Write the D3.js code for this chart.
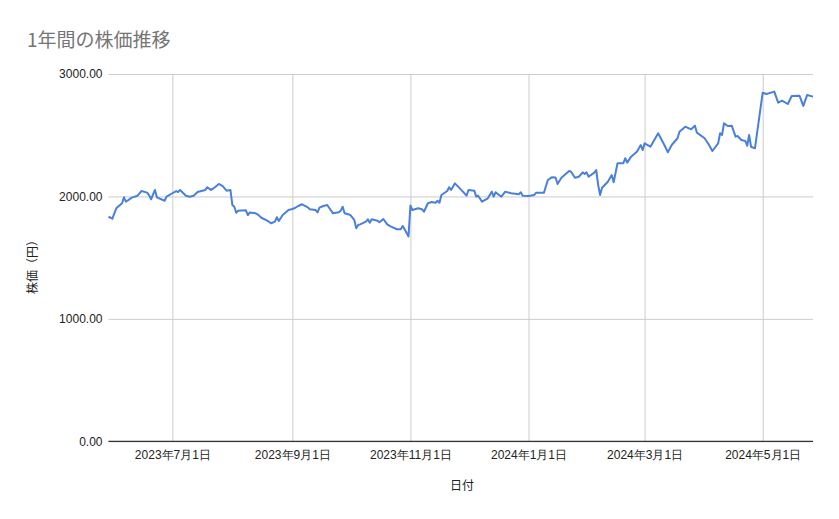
<!DOCTYPE html>
<html><head><meta charset="utf-8">
<script src="https://cdn.jsdelivr.net/npm/d3@7"></script>
<style>
body{margin:0;background:#fff;}
svg{display:block;font-family:"Liberation Sans",Arial,"Noto Sans CJK JP",sans-serif;}
</style></head>
<body>
<svg id="c" width="839" height="519"></svg>
<script>
const title = "1年間の株価推移";
const xLabel = "日付";
const yLabel = "株価（円）";
const dates = [
"2023-05-29","2023-05-31","2023-06-02","2023-06-05","2023-06-06","2023-06-07","2023-06-10","2023-06-13","2023-06-15","2023-06-18",
"2023-06-19","2023-06-20","2023-06-22","2023-06-23","2023-06-27","2023-06-28","2023-07-01","2023-07-03","2023-07-04","2023-07-05",
"2023-07-08","2023-07-10","2023-07-12","2023-07-14","2023-07-18","2023-07-19","2023-07-21","2023-07-23","2023-07-25","2023-07-27",
"2023-07-29","2023-07-31","2023-08-01","2023-08-02","2023-08-03","2023-08-04","2023-08-08","2023-08-09","2023-08-10","2023-08-13",
"2023-08-14","2023-08-16","2023-08-19","2023-08-21","2023-08-23","2023-08-24","2023-08-25","2023-08-27","2023-08-30","2023-09-01",
"2023-09-02","2023-09-04","2023-09-06","2023-09-09","2023-09-10","2023-09-13","2023-09-14","2023-09-15","2023-09-17","2023-09-19",
"2023-09-22","2023-09-25","2023-09-26","2023-09-27","2023-09-28","2023-10-01","2023-10-03","2023-10-04","2023-10-05","2023-10-06",
"2023-10-09","2023-10-10","2023-10-11","2023-10-12","2023-10-15","2023-10-16","2023-10-18","2023-10-20","2023-10-22","2023-10-25",
"2023-10-27","2023-10-28","2023-10-29","2023-10-31","2023-11-01","2023-11-02","2023-11-05","2023-11-07","2023-11-08","2023-11-10",
"2023-11-12","2023-11-14","2023-11-15","2023-11-16","2023-11-17","2023-11-20","2023-11-21","2023-11-22","2023-11-24","2023-11-27",
"2023-11-30","2023-12-01","2023-12-04","2023-12-05","2023-12-06","2023-12-08","2023-12-11","2023-12-13","2023-12-14","2023-12-15",
"2023-12-18","2023-12-20","2023-12-23","2023-12-27","2023-12-28","2023-12-29","2024-01-01","2024-01-04","2024-01-05","2024-01-09",
"2024-01-11","2024-01-13","2024-01-15","2024-01-16","2024-01-18","2024-01-22","2024-01-23","2024-01-25","2024-01-27","2024-01-29",
"2024-01-30","2024-01-31","2024-02-01","2024-02-04","2024-02-05","2024-02-06","2024-02-07","2024-02-08","2024-02-11","2024-02-13",
"2024-02-14","2024-02-16","2024-02-19","2024-02-20","2024-02-21","2024-02-23","2024-02-26","2024-02-28","2024-02-29","2024-03-01",
"2024-03-04","2024-03-08","2024-03-11","2024-03-13","2024-03-15","2024-03-18","2024-03-19","2024-03-22","2024-03-25","2024-03-27",
"2024-03-28","2024-04-01","2024-04-03","2024-04-05","2024-04-08","2024-04-09","2024-04-10","2024-04-11","2024-04-13","2024-04-15",
"2024-04-17","2024-04-18","2024-04-20","2024-04-22","2024-04-23","2024-04-24","2024-04-25","2024-04-27","2024-05-01","2024-05-03",
"2024-05-07","2024-05-09","2024-05-11","2024-05-14","2024-05-16","2024-05-20","2024-05-22","2024-05-24","2024-05-27"
];
const prices = [
1834,1818,1903,1944,1993,1957,1990,2006,2044,2031,
2009,1977,2053,1993,1965,1998,2026,2044,2036,2053,
2006,1998,2006,2036,2053,2075,2053,2075,2102,2085,
2047,2053,1930,1916,1867,1884,1887,1848,1869,1862,
1854,1826,1802,1781,1794,1830,1799,1848,1889,1897,
1903,1922,1936,1911,1895,1889,1870,1908,1922,1930,
1862,1870,1884,1916,1862,1848,1808,1740,1767,1772,
1794,1813,1786,1813,1802,1789,1816,1772,1753,1732,
1732,1759,1732,1673,1926,1889,1903,1895,1875,1944,
1955,1949,1965,1949,2012,2044,2075,2053,2107,2058,
2006,2053,2047,1998,2006,1957,1985,2039,1998,2034,
1998,2039,2026,2017,2034,2006,2004,2012,2031,2031,
2134,2156,2155,2102,2153,2208,2202,2153,2161,2197,
2183,2197,2161,2194,2216,2093,2012,2071,2120,2175,
2116,2271,2271,2312,2276,2325,2365,2420,2379,2434,
2406,2516,2426,2361,2420,2475,2529,2570,2548,2578,
2521,2475,2428,2371,2434,2516,2502,2597,2575,2578,
2488,2494,2461,2453,2414,2502,2406,2393,2847,2837,
2856,2766,2782,2755,2820,2823,2739,2829,2815
];
const yTicks = [0, 1000, 2000, 3000];
const xTickDates = ["2023-07-01","2023-09-01","2023-11-01","2024-01-01","2024-03-01","2024-05-01"];

const parse = d3.timeParse("%Y-%m-%d");
const data = dates.map((d, i) => ({date: parse(d), value: prices[i]}));

const svg = d3.select("#c");
const m = {left: 108.5, right: 813, top: 74, bottom: 441.3};

const x = d3.scaleTime()
  .domain(d3.extent(data, d => d.date))
  .range([m.left, m.right]);
const y = d3.scaleLinear().domain([0, 3000]).range([m.bottom, m.top]);

// title
svg.append("text").attr("x", 27).attr("y", 47)
  .attr("font-size", 19).attr("fill", "#757575")
  .attr("font-family", "'Noto Sans CJK JP','Liberation Sans',sans-serif")
  .text(title);

// horizontal grid
const yAxis = d3.axisLeft(y).tickValues(yTicks)
  .tickSize(-(m.right - m.left)).tickPadding(6)
  .tickFormat(d => d3.format(".2f")(d));
const gy = svg.append("g").attr("transform", `translate(${m.left},0)`).call(yAxis);
gy.select(".domain").remove();
gy.selectAll(".tick line").attr("stroke", "#cccccc").attr("stroke-width", 1);
gy.selectAll(".tick text").attr("font-size", 12).attr("fill", "#222").attr("x", -6);

// vertical grid + x labels
const xAxis = d3.axisBottom(x).tickValues(xTickDates.map(parse))
  .tickSize(-(m.bottom - m.top)).tickPadding(7)
  .tickFormat(d => `${d.getFullYear()}年${d.getMonth() + 1}月${d.getDate()}日`);
const gx = svg.append("g").attr("transform", `translate(0,${m.bottom})`).call(xAxis);
gx.select(".domain").remove();
gx.selectAll(".tick line").attr("stroke", "#cccccc").attr("stroke-width", 1);
gx.selectAll(".tick text").attr("font-size", 12).attr("fill", "#222").attr("dy", "0.9em");

// baseline
svg.append("line").attr("x1", m.left).attr("x2", m.right)
  .attr("y1", y(0)).attr("y2", y(0)).attr("stroke", "#333").attr("stroke-width", 1.3);

// line
const line = d3.line().x(d => x(d.date)).y(d => y(d.value));
svg.append("path").datum(data).attr("d", line)
  .attr("fill", "none").attr("stroke", "#4a80d9").attr("stroke-width", 2)
  .attr("stroke-linejoin", "round");

// axis titles
svg.append("text").attr("x", 462).attr("y", 490).attr("text-anchor", "middle")
  .attr("font-size", 12).attr("fill", "#222").text(xLabel);
svg.append("text").attr("transform", "translate(37,264) rotate(-90)")
  .attr("text-anchor", "middle").attr("font-size", 12).attr("fill", "#222").text(yLabel);
</script>
</body></html>
